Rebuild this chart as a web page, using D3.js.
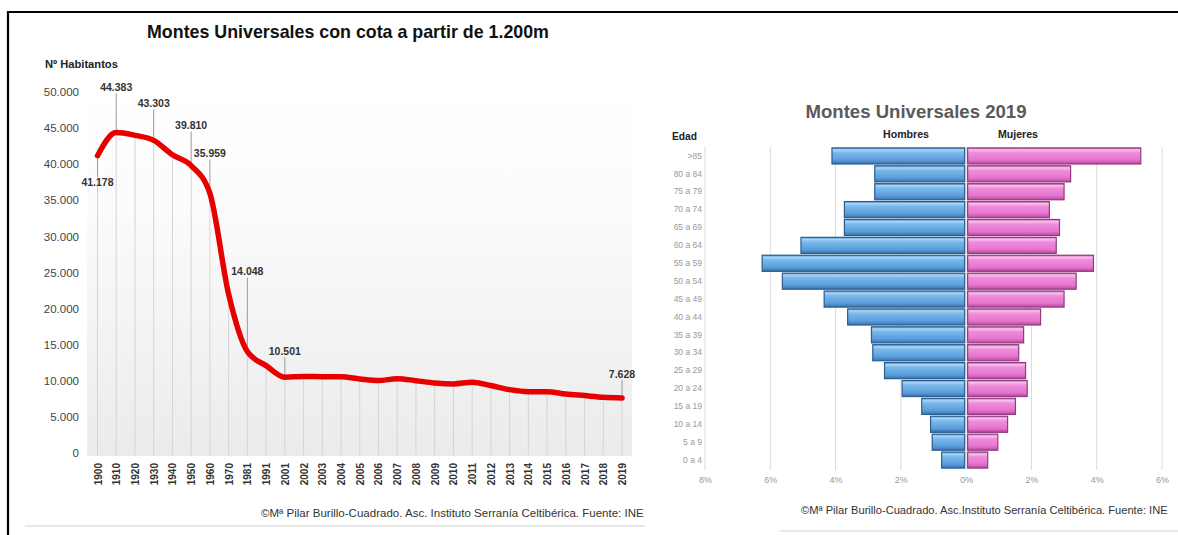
<!DOCTYPE html>
<html><head><meta charset="utf-8">
<script src="https://cdn.jsdelivr.net/npm/d3@7"></script>
<style>
html,body{margin:0;padding:0;background:#fff;}
svg{display:block;font-family:"Liberation Sans",Arial,sans-serif;}
</style></head>
<body>
<svg id="c" width="1178" height="535"></svg>
<script>
// ---------- DATA ----------
const years = ["1900","1910","1920","1930","1940","1950","1960","1970","1981","1991","2001","2002","2003","2004","2005","2006","2007","2008","2009","2010","2011","2012","2013","2014","2015","2016","2017","2018","2019"];
const population = [41178,44383,44000,43303,41300,39810,35959,22000,14048,12100,10501,10600,10560,10550,10250,10030,10300,10020,9700,9570,9800,9340,8780,8500,8500,8180,7950,7720,7628];
const labeledYears = ["1900","1910","1930","1950","1960","1981","2001","2019"];
const yTicks = [0,5000,10000,15000,20000,25000,30000,35000,40000,45000,50000];

const ages = [">85","80 a 84","75 a 79","70 a 74","65 a 69","60 a 64","55 a 59","50 a 54","45 a 49","40 a 44","35 a 39","30 a 34","25 a 29","20 a 24","15 a 19","10 a 14","5 a 9","0 a 4"];
const men =   [4.11,2.80,2.80,3.73,3.73,5.06,6.25,5.63,4.35,3.63,2.90,2.86,2.50,1.96,1.36,1.09,1.04,0.75];
const women = [5.35,3.20,3.00,2.55,2.86,2.76,3.90,3.37,3.00,2.28,1.76,1.61,1.82,1.87,1.51,1.27,0.97,0.66];
const pctTicks = [-8,-6,-4,-2,0,2,4,6];

const leftTitle = "Montes Universales con cota a partir de 1.200m";
const rightTitle = "Montes Universales 2019";
const leftFooter = "©Mª Pilar Burillo-Cuadrado. Asc. Instituto Serranía Celtibérica. Fuente: INE";
const rightFooter = "©Mª Pilar Burillo-Cuadrado. Asc.Instituto Serranía Celtibérica. Fuente: INE";

// ---------- HELPERS ----------
const svg = d3.select("#c");
const defs = svg.append("defs");
const loc = d3.formatLocale({decimal:",", thousands:".", grouping:[3], currency:["",""]});
const fmt = loc.format(",d");

function fit(sel, w){ // scale font-size so the text has width w
  sel.each(function(){
    const fs = parseFloat(this.getAttribute("font-size"));
    const cur = this.getComputedTextLength();
    if(cur>0) this.setAttribute("font-size", (fs*w/cur).toFixed(2));
  });
  return sel;
}

// frame
svg.append("path").attr("d","M8,535 V12 H1178").attr("fill","none").attr("stroke","#000").attr("stroke-width",2.2);

// ---------- LEFT CHART ----------
const x = d3.scalePoint().domain(years).range([97.5, 622]);
const y = d3.scaleLinear().domain([0,50000]).range([453, 92]);

const bg = defs.append("linearGradient").attr("id","bg").attr("x1",0).attr("x2",0).attr("y1",0).attr("y2",1);
bg.append("stop").attr("offset","0%").attr("stop-color","#ffffff");
bg.append("stop").attr("offset","35%").attr("stop-color","#fbfbfb");
bg.append("stop").attr("offset","100%").attr("stop-color","#ebebeb");
svg.append("rect").attr("x",87).attr("y",84).attr("width",545).attr("height",372).attr("fill","url(#bg)");

fit(svg.append("text").attr("x",348).attr("y",38).attr("text-anchor","middle")
  .attr("font-size",16).attr("font-weight","bold").attr("fill","#111").text(leftTitle), 402);

fit(svg.append("text").attr("x",45).attr("y",68).attr("font-size",9).attr("font-weight","bold")
  .attr("fill","#222").text("Nº Habitantos"), 73);

// y axis
const yAxis = svg.append("g").attr("transform","translate(80,0)")
  .call(d3.axisLeft(y).tickValues(yTicks).tickFormat(d=>fmt(d)).tickSize(0).tickPadding(1));
yAxis.select(".domain").remove();
yAxis.selectAll("text").attr("font-size",11.5).attr("fill","#444").attr("font-family","Liberation Sans, Arial, sans-serif");

// drop lines
svg.append("g").selectAll("line").data(years).join("line")
  .attr("x1",d=>x(d)).attr("x2",d=>x(d))
  .attr("y1",(d,i)=>y(population[i])).attr("y2",455)
  .attr("stroke","#d4d4d4").attr("stroke-width",1);

// x axis
const xAxis = svg.append("g").attr("transform","translate(0,460)")
  .call(d3.axisBottom(x).tickSize(0).tickPadding(0));
xAxis.select(".domain").remove();
xAxis.selectAll("text").attr("transform","rotate(-90)").attr("text-anchor","end")
  .attr("x",-3).attr("y",0).attr("dy","0.35em")
  .attr("font-size",10).attr("font-weight","bold").attr("fill","#333")
  .attr("font-family","Liberation Sans, Arial, sans-serif");

// label leaders and labels
const labelOffset = {"1900":-27,"1910":45,"1930":37,"1950":40,"1960":40,"1981":80,"2001":26,"2019":24};
const lab = svg.append("g");
labeledYears.forEach(yr=>{
  const i = years.indexOf(yr);
  const px = x(yr), py = y(population[i]);
  const off = labelOffset[yr];
  const ly = py - off;
  if(off>0){
    lab.append("line").attr("x1",px).attr("x2",px).attr("y1",ly+6).attr("y2",py).attr("stroke","#9a9a9a").attr("stroke-width",1);
  } else {
    lab.append("line").attr("x1",px).attr("x2",px).attr("y1",py).attr("y2",ly-6).attr("stroke","#9a9a9a").attr("stroke-width",1);
  }
  lab.append("text").attr("x",px).attr("y",ly).attr("dy","0.35em").attr("text-anchor","middle")
    .attr("font-size",10.5).attr("font-weight","bold").attr("fill","#333").text(fmt(population[i]));
});

// line
const line = d3.line().x((d,i)=>x(years[i])).y(d=>y(d)).curve(d3.curveMonotoneX);
svg.append("path").datum(population).attr("d",line).attr("fill","none")
  .attr("stroke","#e80000").attr("stroke-width",5.5).attr("stroke-linejoin","round").attr("stroke-linecap","round");

// footer
fit(svg.append("text").attr("x",261).attr("y",517).attr("font-size",11).attr("fill","#333").text(leftFooter), 383);
svg.append("line").attr("x1",25).attr("x2",645).attr("y1",526).attr("y2",526).attr("stroke","#e0e0e0").attr("stroke-width",1.5);

// ---------- RIGHT CHART (pyramid) ----------
const px = d3.scaleLinear().domain([-8,6]).range([705, 1162]);
const py = d3.scaleBand().domain(ages).range([147, 469]).paddingInner(0.1).paddingOuter(0.05);

fit(svg.append("text").attr("x",916).attr("y",118).attr("text-anchor","middle")
  .attr("font-size",18).attr("font-weight","bold").attr("fill","#5a5a5a").text(rightTitle), 221);

fit(svg.append("text").attr("x",672).attr("y",140).attr("font-size",9).attr("font-weight","bold").attr("fill","#222").text("Edad"),25);
fit(svg.append("text").attr("x",906).attr("y",138).attr("text-anchor","middle").attr("font-size",9).attr("font-weight","bold").attr("fill","#222").text("Hombres"),46);
fit(svg.append("text").attr("x",1018).attr("y",138).attr("text-anchor","middle").attr("font-size",9).attr("font-weight","bold").attr("fill","#222").text("Mujeres"),40);

// grid
svg.append("g").selectAll("line").data(pctTicks).join("line")
  .attr("x1",d=>px(d)).attr("x2",d=>px(d)).attr("y1",147).attr("y2",470)
  .attr("stroke","#dadada").attr("stroke-width",1);

// x axis
const pxAxis = svg.append("g").attr("transform","translate(0,478)")
  .call(d3.axisBottom(px).tickValues(pctTicks).tickFormat(d=>Math.abs(d)+"%").tickSize(0).tickPadding(0));
pxAxis.select(".domain").remove();
pxAxis.selectAll("text").attr("font-size",9).attr("fill","#999").attr("dy","0.6em").attr("font-family","Liberation Sans, Arial, sans-serif");

// y axis
const pyAxis = svg.append("g").attr("transform","translate(702,0)")
  .call(d3.axisLeft(py).tickSize(0).tickPadding(0));
pyAxis.select(".domain").remove();
pyAxis.selectAll("text").attr("font-size",8.5).attr("fill","#999").attr("font-family","Liberation Sans, Arial, sans-serif");

// gradients for 3D bars
function grad(id, stops){
  const g = defs.append("linearGradient").attr("id",id).attr("x1",0).attr("x2",0).attr("y1",0).attr("y2",1);
  stops.forEach(s=>g.append("stop").attr("offset",s[0]).attr("stop-color",s[1]));
}
grad("gm",[["0%","#4f8fcb"],["12%","#a8d6f7"],["30%","#79b8ea"],["75%","#5a9edb"],["100%","#3a72ad"]]);
grad("gw",[["0%","#d058b6"],["12%","#f9c0ec"],["30%","#ee8ddb"],["75%","#e574cf"],["100%","#b8469f"]]);

svg.append("g").selectAll("rect").data(men).join("rect")
  .attr("x",d=>px(-d)).attr("width",d=>px(0)-px(-d)-1.5)
  .attr("y",(d,i)=>py(ages[i])).attr("height",py.bandwidth())
  .attr("fill","url(#gm)").attr("stroke","#2b5d8f").attr("stroke-width",1.2);

svg.append("g").selectAll("rect").data(women).join("rect")
  .attr("x",px(0)+1.5).attr("width",d=>px(d)-px(0)-1.5)
  .attr("y",(d,i)=>py(ages[i])).attr("height",py.bandwidth())
  .attr("fill","url(#gw)").attr("stroke","#8f3d7e").attr("stroke-width",1.2);

// footer
fit(svg.append("text").attr("x",801).attr("y",514).attr("font-size",11).attr("fill","#333").text(rightFooter), 367);
svg.append("line").attr("x1",780).attr("x2",1178).attr("y1",531).attr("y2",531).attr("stroke","#e0e0e0").attr("stroke-width",1.5);
</script>
</body></html>
